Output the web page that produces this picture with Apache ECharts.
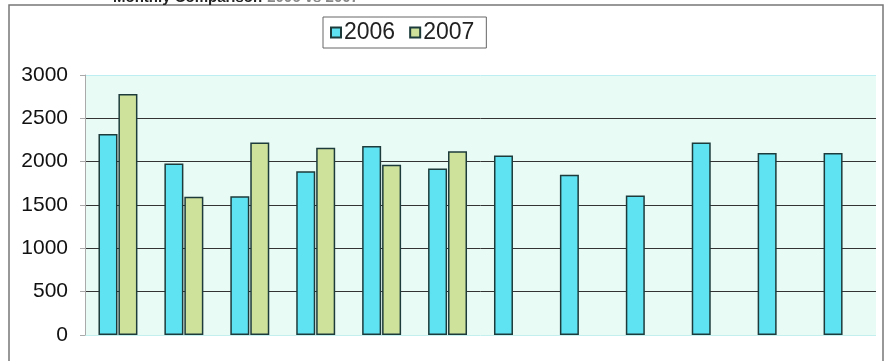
<!DOCTYPE html>
<html>
<head>
<meta charset="utf-8">
<script src="https://cdn.jsdelivr.net/npm/echarts@6/dist/echarts.min.js"></script>
<style>html,body{margin:0;padding:0;background:#fff;}#c{width:889px;height:361px;}</style>
</head>
<body>
<div id="c"></div>
<script>
const months = ['Jan','Feb','Mar','Apr','May','Jun','Jul','Aug','Sep','Oct','Nov','Dec'];
const values2006 = [2320, 1980, 1600, 1890, 2180, 1920, 2070, 1850, 1610, 2220, 2100, 2100];
const values2007 = [2780, 1595, 2220, 2160, 1965, 2120, null, null, null, null, null, null];
const yTicks = [0, 500, 1000, 1500, 2000, 2500, 3000];

const chart = echarts.init(document.getElementById('c'));
chart.setOption({
  animation: false,
  backgroundColor: '#ffffff',
  title: {
    text: '{b|Monthly Comparison} {g|2006 vs 2007}',
    left: 108, top: -16,
    textStyle: { rich: {
      b: { fontFamily: 'Liberation Sans', fontWeight: 'bold', fontSize: 15, color: '#222' },
      g: { fontFamily: 'Liberation Sans', fontWeight: 'bold', fontSize: 15, color: '#888' }
    }}
  },
  graphic: [{
    type: 'rect', shape: { x: 9, y: 5, width: 874, height: 360 },
    style: { fill: 'none', stroke: '#777', lineWidth: 1.5 }, silent: true, z: 0
  }],
  legend: {
    data: ['2006', '2007'],
    left: 323, top: 17,
    backgroundColor: '#fff', borderColor: '#666', borderWidth: 1,
    padding: [4, 12, 4, 7],
    icon: 'rect',
    itemWidth: 10, itemHeight: 10, itemGap: 14,
    textStyle: { fontFamily: 'Liberation Sans', fontSize: 23, color: '#222', padding: [0,0,0,-2] }
  },
  grid: {
    left: 85, right: 13, top: 75, bottom: 26,
    show: true, backgroundColor: '#e9fbf5', borderWidth: 0
  },
  xAxis: {
    type: 'category', data: months,
    axisLabel: { show: false }, axisLine: { show: false }, axisTick: { show: false }
  },
  yAxis: {
    type: 'value', min: 0, max: 3000, interval: 500,
    axisLine: { show: true, lineStyle: { color: '#aaa', width: 1 } },
    axisTick: { show: true, length: 5, lineStyle: { color: '#aaa' } },
    axisLabel: { fontFamily: 'Liberation Sans', fontSize: 21, color: '#111', margin: 17,
      formatter: v => yTicks.includes(v) ? String(v) : '' },
    splitLine: { lineStyle: { color: ['#c3f0ee', '#333', '#333', '#333', '#333', '#333', '#bdeef2'], width: 1 } }
  },
  series: [
    { name: '2006', type: 'bar', data: values2006, barWidth: 19, barGap: '5%', barCategoryGap: '42%',
      itemStyle: { color: '#5fe2f2', borderColor: '#1d3b3b', borderWidth: 1.5 } },
    { name: '2007', type: 'bar', data: values2007, barWidth: 19,
      itemStyle: { color: '#cfe29c', borderColor: '#1d3b3b', borderWidth: 1.5 } }
  ]
});
</script>
</body>
</html>
